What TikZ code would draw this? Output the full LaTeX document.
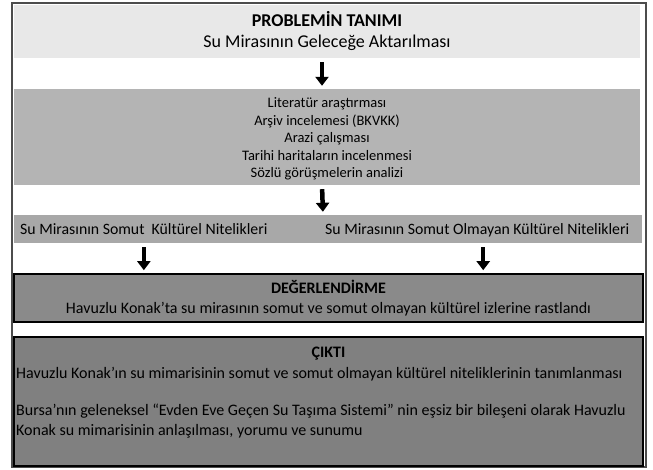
\documentclass[tikz,border=0pt]{standalone}
\usepackage{fontspec}
\setmainfont{Carlito}
\usetikzlibrary{arrows.meta,positioning,calc}

\definecolor{lightpanel}{HTML}{E8E8E8}
\definecolor{midpanel}{HTML}{B4B4B4}
\definecolor{bandpanel}{HTML}{A8A8A8}
\definecolor{darkpanel}{HTML}{8A8A8A}
\definecolor{outpanel}{HTML}{808080}

\tikzset{
  panel/.style={rectangle,inner sep=0pt,align=center},
  framed/.style={panel,draw=black,line width=1.6pt},
  downarrow/.style={-{Triangle[width=13pt,length=9pt]},line width=4.5pt,black,
    shorten <=4pt,shorten >=3pt},
  plain/.style={inner sep=0pt,anchor=base west}
}

\begin{document}
\begin{tikzpicture}[x=1pt,y=-1pt]
        \useasboundingbox (0,0) rectangle (653,470);
        % Outer frame
        \draw[line width=1.2pt,black!70] (12,3) rectangle (646,467);

        % Problem definition
        \node[panel,fill=lightpanel,minimum width=626pt,minimum height=53pt,
              font=\fontsize{18}{21}\selectfont] (problem) at (327,31.5)
            {\textbf{PROBLEMİN TANIMI}\\Su Mirasının Geleceğe Aktarılması};

        % Methods
        \node[panel,fill=midpanel,minimum width=626pt,minimum height=96pt] (methods) at (327,137) {};
        \node[panel,font=\fontsize{14.5}{17.5}\selectfont] (methodlist) at (327,139)
            {Literatür araştırması\\Arşiv incelemesi (BKVKK)\\Arazi çalışması\\
             Tarihi haritaların incelenmesi\\Sözlü görüşmelerin analizi};

        % Heritage qualities
        \node[panel,fill=bandpanel,minimum width=628pt,minimum height=28pt] (band) at (328,229) {};
        \node[plain,font=\fontsize{15.8}{18}\selectfont] (tangible) at (20,234.5)
            {Su Mirasının Somut\ \ Kültürel Nitelikleri};
        \node[plain,font=\fontsize{15.8}{18}\selectfont] (intangible) at (325,234.5)
            {Su Mirasının Somut Olmayan Kültürel Nitelikleri};

        % Evaluation
        \node[framed,fill=darkpanel,minimum width=629pt,minimum height=48pt,
              font=\fontsize{16}{20}\selectfont] (evaluation) at (328.5,298)
            {\textbf{DEĞERLENDİRME}\\Havuzlu Konak’ta su mirasının somut ve somut olmayan kültürel izlerine rastlandı};

        % Output
        \node[framed,fill=outpanel,minimum width=629pt,minimum height=129pt] (output) at (328.5,401.5) {};
        \node[panel,anchor=base,font=\fontsize{16}{20}\selectfont\bfseries] (outtitle) at (328.5,357) {ÇIKTI};
        \node[plain,font=\fontsize{16}{20}\selectfont] (outfirst) at (16,378)
            {Havuzlu Konak’ın su mimarisinin somut ve somut olmayan kültürel niteliklerinin tanımlanması};
        \node[plain,font=\fontsize{16}{20}\selectfont] (outsecond) at (16,415)
            {Bursa’nın geleneksel “Evden Eve Geçen Su Taşıma Sistemi” nin eşsiz bir bileşeni olarak Havuzlu};
        \node[plain,font=\fontsize{16}{20}\selectfont] (outthird) at (16,435)
            {Konak su mimarisinin anlaşılması, yorumu ve sunumu};

        % Arrows
        \draw[downarrow] ([xshift=-5pt]problem.south) -- ([xshift=-5pt]methods.north);
        \draw[downarrow] ([xshift=-5pt]methods.south) -- ([xshift=-5pt]band.north);
        \draw[downarrow] (tangible.south |- band.south) -- (tangible.south |- evaluation.north);
        \draw[downarrow] ([xshift=6pt]intangible.south |- band.south) -- ([xshift=6pt]intangible.south |- evaluation.north);
\end{tikzpicture}
\end{document}
